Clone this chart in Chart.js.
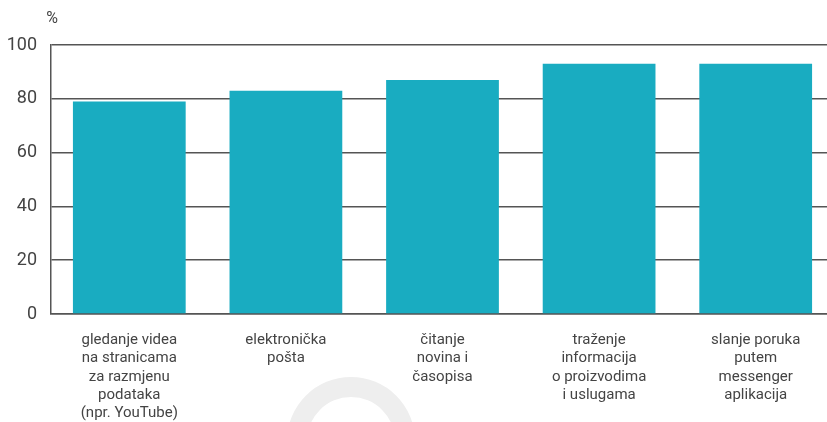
<!DOCTYPE html>
<html>
<head>
<meta charset="utf-8">
<script src="https://cdn.jsdelivr.net/npm/chart.js@4"></script>
<style>
  html, body { margin: 0; padding: 0; background: #fff; overflow: hidden; }
  #wrap { width: 834px; height: 422px; position: relative; }
</style>
</head>
<body>
<div id="wrap"><canvas id="mycanvas"></canvas></div>
<script>
var categories = [
    ['gledanje videa', 'na stranicama', 'za razmjenu', 'podataka', '(npr. YouTube)'],
    ['elektronička', 'pošta'],
    ['čitanje', 'novina i', 'časopisa'],
    ['traženje', 'informacija', 'o proizvodima', 'i uslugama'],
    ['slanje poruka', 'putem', 'messenger', 'aplikacija']
];
var values = [79, 83, 87, 93, 93];
var yTicks = [0, 20, 40, 60, 80, 100];
var unitLabel = '%';

// grey ring in the background and the % sign above the axis
var extras = {
    id: 'extras',
    beforeDraw: function(chart) {
        var ctx = chart.ctx;
        ctx.save();
        ctx.beginPath();
        ctx.arc(351, 441, 64, 0, Math.PI * 2);
        ctx.arc(351, 441, 44, 0, Math.PI * 2, true);
        ctx.fillStyle = '#eeeeee';
        ctx.fill();
        ctx.restore();
    },
    afterDraw: function(chart) {
        var ctx = chart.ctx;
        var y = chart.scales.y;
        ctx.save();
        ctx.font = '16px Roboto';
        ctx.fillStyle = '#444';
        ctx.textAlign = 'center';
        ctx.textBaseline = 'middle';
        ctx.fillText(unitLabel, y.right + 1, 19);
        ctx.restore();
    }
};

var chartdata = {
    labels: categories,
    datasets: [{
        data: values,
        backgroundColor: '#19acc1',
        borderWidth: 0,
        barPercentage: 0.72,
        categoryPercentage: 1
    }]
};

const config = {
    type: 'bar',
    data: chartdata,
    plugins: [extras],
    options: {
        responsive: false,
        animation: false,
        layout: { padding: { top: 45, left: 0, right: 0, bottom: 0 } },
        plugins: { legend: { display: false }, tooltip: { enabled: false } },
        scales: {
            x: {
                afterFit: function(scale) { scale.height = 108; },
                grid: { display: false, drawTicks: false },
                border: { color: '#555', width: 1.5 },
                ticks: {
                    color: '#444',
                    font: { family: 'Roboto', size: 15, lineHeight: 1.22 },
                    maxRotation: 0,
                    autoSkip: false,
                    padding: 17
                }
            },
            y: {
                min: 0,
                max: 100,
                afterFit: function(scale) { scale.width = 51; },
                afterBuildTicks: function(scale) {
                    scale.ticks = yTicks.map(function(v) { return { value: v }; });
                },
                grid: { color: '#555', lineWidth: 1.5, drawTicks: false },
                border: { color: '#555', width: 1.5 },
                ticks: {
                    color: '#444',
                    font: { family: 'Roboto', size: 18 },
                    padding: 14
                }
            }
        }
    }
};

var cv = document.getElementById('mycanvas');
cv.width = 834;
cv.height = 422;
const myChart = new Chart(cv, config);
</script>
</body>
</html>
